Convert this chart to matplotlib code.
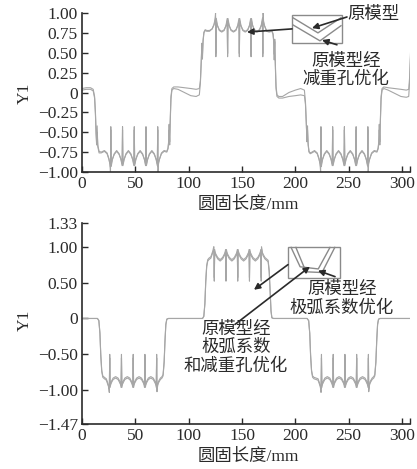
import matplotlib
matplotlib.use("Agg")
import matplotlib.pyplot as plt
from matplotlib.patches import Rectangle

plt.rcParams['font.family'] = ['Liberation Serif', 'Noto Sans CJK SC']
plt.rcParams['axes.unicode_minus'] = True

# ---- top chart: 原模型 vs 原模型经减重孔优化 ----
top_x = [0, 4, 8, 10.5, 11.8, 12.6, 13.2, 13.7, 14.2, 14.8, 16, 18,
         21, 23.5, 25.2, 26.2, 26.7, 27, 27.4, 28.4, 30.2, 32.5,
         34.8, 36.6, 37.6, 38, 38.4, 39.4, 41.2, 43.5,
         45.8, 47.6, 48.6, 49, 49.4, 50.4, 52.2, 54.5,
         56.8, 58.6, 59.6, 60, 60.4, 61.4, 63.2, 65.5,
         67.8, 69.6, 70.6, 71, 71.3, 71.7, 72.6, 74.5, 77,
         79.5, 80.6, 81.2, 81.7, 82.2, 82.7, 83.4, 84.3, 86,
         90, 96, 102, 107, 110,
         111, 111.8, 112.4, 112.9, 113.5, 114.3, 115.5, 117,
         119.5, 122, 123.8, 124.8, 125.2, 125.5, 125.9, 126.9, 128.7, 131,
         133.3, 135.1, 136.1, 136.5, 136.9, 137.9, 139.7, 142,
         144.3, 146.1, 147.1, 147.5, 147.9, 148.9, 150.7, 153,
         155.3, 157.1, 158.1, 158.5, 158.9, 159.9, 161.7, 164,
         166.3, 168.1, 169.1, 169.5, 169.8, 170.2, 171.1, 173, 175.5,
         178, 179.1, 179.7, 180.2, 180.7, 181.2, 181.9, 182.8, 184.5,
         188, 194, 200, 205, 208.5,
         209.5, 210.3, 210.9, 211.4, 212, 212.8, 214, 215.5,
         218, 220.5, 222.2, 223.2, 223.7, 224, 224.4, 225.4, 227.2, 229.5,
         231.8, 233.6, 234.6, 235, 235.4, 236.4, 238.2, 240.5,
         242.8, 244.6, 245.6, 246, 246.4, 247.4, 249.2, 251.5,
         253.8, 255.6, 256.6, 257, 257.4, 258.4, 260.2, 262.5,
         264.8, 266.6, 267.6, 268, 268.3, 268.7, 269.6, 271.5, 274,
         276.5, 277.6, 278.2, 278.7, 279.2, 279.7, 280.4, 281.3, 283,
         287, 293, 299, 304, 306.3, 307.2, 308, 309]

top_orig = [0.05, 0.06, 0.06, 0.04, -0.05, -0.25, -0.5, -0.63, -0.5, -0.66, -0.74, -0.75,
            -0.73, -0.76, -0.83, -0.9, -1.0, -0.43, -0.93, -0.85, -0.77, -0.73,
            -0.77, -0.85, -0.92, -0.43, -0.92, -0.85, -0.77, -0.73,
            -0.77, -0.85, -0.92, -0.43, -0.92, -0.85, -0.77, -0.73,
            -0.77, -0.85, -0.92, -0.43, -0.92, -0.85, -0.77, -0.73,
            -0.77, -0.85, -0.92, -0.43, -1.0, -0.9, -0.84, -0.76, -0.73,
            -0.74, -0.7, -0.62, -0.47, -0.62, -0.35, -0.05, 0.05, 0.07,
            0.07, 0.06, 0.05, 0.04, 0.05,
            0.15, 0.4, 0.6, 0.47, 0.64, 0.75, 0.78, 0.77,
            0.77, 0.8, 0.86, 0.93, 1.0, 0.45, 0.93, 0.85, 0.78, 0.76,
            0.78, 0.85, 0.93, 0.45, 0.93, 0.85, 0.78, 0.76,
            0.78, 0.85, 0.93, 0.45, 0.93, 0.85, 0.78, 0.76,
            0.78, 0.85, 0.93, 0.45, 0.93, 0.85, 0.78, 0.76,
            0.78, 0.85, 0.93, 0.45, 1.0, 0.9, 0.84, 0.77, 0.76,
            0.77, 0.73, 0.64, 0.48, 0.64, 0.36, 0.05, -0.05, -0.07,
            -0.07, -0.05, -0.04, -0.03, -0.04,
            -0.15, -0.4, -0.6, -0.47, -0.64, -0.74, -0.76, -0.75,
            -0.73, -0.76, -0.83, -0.9, -1.0, -0.43, -0.93, -0.85, -0.77, -0.73,
            -0.77, -0.85, -0.92, -0.43, -0.92, -0.85, -0.77, -0.73,
            -0.77, -0.85, -0.92, -0.43, -0.92, -0.85, -0.77, -0.73,
            -0.77, -0.85, -0.92, -0.43, -0.92, -0.85, -0.77, -0.73,
            -0.77, -0.85, -0.92, -0.43, -1.0, -0.9, -0.84, -0.76, -0.73,
            -0.74, -0.7, -0.62, -0.47, -0.62, -0.35, -0.05, 0.05, 0.07,
            0.06, 0.05, 0.04, 0.03, 0.04, 0.2, 0.5, 0.75]

top_opt = [0.03, 0.04, 0.04, 0.02, -0.07, -0.28, -0.52, -0.66, -0.42, -0.68, -0.76, -0.76,
           -0.74, -0.77, -0.84, -0.9, -0.94, -0.47, -0.9, -0.84, -0.78, -0.74,
           -0.78, -0.84, -0.9, -0.47, -0.9, -0.84, -0.78, -0.74,
           -0.78, -0.84, -0.9, -0.47, -0.9, -0.84, -0.78, -0.74,
           -0.78, -0.84, -0.9, -0.47, -0.9, -0.84, -0.78, -0.74,
           -0.78, -0.84, -0.9, -0.47, -0.94, -0.88, -0.84, -0.77, -0.74,
           -0.75, -0.71, -0.64, -0.4, -0.66, -0.38, -0.08, 0.03, 0.05,
           0.04, 0.0, -0.04, -0.05, -0.03,
           0.12, 0.38, 0.62, 0.42, 0.66, 0.76, 0.79, 0.78,
           0.78, 0.8, 0.85, 0.91, 0.95, 0.49, 0.9, 0.84, 0.79, 0.77,
           0.79, 0.84, 0.9, 0.49, 0.9, 0.84, 0.79, 0.77,
           0.79, 0.84, 0.9, 0.49, 0.9, 0.84, 0.79, 0.77,
           0.79, 0.84, 0.9, 0.49, 0.9, 0.84, 0.79, 0.77,
           0.79, 0.84, 0.9, 0.49, 0.95, 0.88, 0.84, 0.78, 0.77,
           0.78, 0.74, 0.66, 0.41, 0.67, 0.39, 0.08, -0.03, -0.05,
           -0.05, 0.0, 0.03, 0.05, 0.03,
           -0.12, -0.38, -0.62, -0.42, -0.66, -0.75, -0.77, -0.76,
           -0.74, -0.77, -0.84, -0.9, -0.94, -0.47, -0.9, -0.84, -0.78, -0.74,
           -0.78, -0.84, -0.9, -0.47, -0.9, -0.84, -0.78, -0.74,
           -0.78, -0.84, -0.9, -0.47, -0.9, -0.84, -0.78, -0.74,
           -0.78, -0.84, -0.9, -0.47, -0.9, -0.84, -0.78, -0.74,
           -0.78, -0.84, -0.9, -0.47, -0.94, -0.88, -0.84, -0.77, -0.74,
           -0.75, -0.71, -0.64, -0.4, -0.66, -0.38, -0.08, 0.03, 0.05,
           0.03, -0.01, -0.05, -0.06, -0.05, 0.15, 0.45, 0.72]

# ---- bottom chart: 极弧系数优化 vs 极弧系数和减重孔优化 ----
bot_x = [0, 10, 14.5, 15.8, 16.8, 17.6, 18.5, 19.5, 21,
         22.8, 24.2, 25.2, 25.6, 26, 26.4, 27.4, 29.2, 31.5,
         33.8, 35.6, 36.6, 37, 37.4, 38.4, 40.2, 42.5,
         44.8, 46.6, 47.6, 48, 48.4, 49.4, 51.2, 53.5,
         55.8, 57.6, 58.6, 59, 59.4, 60.4, 62.2, 64.5,
         66.8, 68.6, 69.6, 70, 70.3, 70.7, 71.6, 73.5, 75,
         76, 77, 77.8, 78.6, 79.5, 81,
         90, 100, 110, 113, 114.2, 115.2, 116, 116.9, 117.9, 119,
         120.8, 122.2, 123.2, 123.6, 124, 124.4, 125.4, 127.2, 129.5,
         131.8, 133.6, 134.6, 135, 135.4, 136.4, 138.2, 140.5,
         142.8, 144.6, 145.6, 146, 146.4, 147.4, 149.2, 151.5,
         153.8, 155.6, 156.6, 157, 157.4, 158.4, 160.2, 162.5,
         164.8, 166.6, 167.6, 168, 168.3, 168.7, 169.6, 171.5, 173,
         174.5, 175.5, 176.4, 177.2, 178, 179.5,
         190, 200, 211, 212.5, 213.5, 214.3, 215.2, 216.2, 217.5,
         221.3, 222.7, 223.7, 224.1, 224.5, 224.9, 225.9, 227.7, 230,
         232.3, 234.1, 235.1, 235.5, 235.9, 236.9, 238.7, 241,
         243.3, 245.1, 246.1, 246.5, 246.9, 247.9, 249.7, 252,
         254.3, 256.1, 257.1, 257.5, 257.9, 258.9, 260.7, 263,
         265.3, 267.1, 268.1, 268.5, 268.8, 269.2, 270.1, 272, 273.5,
         274.5, 275.5, 276.3, 277.1, 278, 279.5,
         290, 300, 307.5]

bot_arc = [0, 0, 0, -0.03, -0.2, -0.5, -0.72, -0.8, -0.82,
           -0.84, -0.9, -0.98, -1.03, -0.5, -0.96, -0.88, -0.83, -0.81,
           -0.83, -0.88, -0.96, -0.5, -0.96, -0.88, -0.83, -0.81,
           -0.83, -0.88, -0.96, -0.5, -0.96, -0.88, -0.83, -0.81,
           -0.83, -0.88, -0.96, -0.5, -0.96, -0.88, -0.83, -0.81,
           -0.83, -0.88, -0.96, -0.5, -1.02, -0.96, -0.88, -0.83, -0.81,
           -0.78, -0.6, -0.3, -0.08, -0.01, 0,
           0, 0, 0, 0, 0.03, 0.2, 0.5, 0.72, 0.8, 0.82,
           0.84, 0.9, 0.98, 1.0, 0.52, 0.96, 0.88, 0.83, 0.8,
           0.83, 0.88, 0.96, 0.52, 0.96, 0.88, 0.83, 0.8,
           0.83, 0.88, 0.96, 0.52, 0.96, 0.88, 0.83, 0.8,
           0.83, 0.88, 0.96, 0.52, 0.96, 0.88, 0.83, 0.8,
           0.83, 0.88, 0.96, 0.52, 1.0, 0.96, 0.88, 0.83, 0.81,
           0.79, 0.65, 0.35, 0.1, 0.01, 0,
           0, 0, 0, -0.03, -0.2, -0.5, -0.72, -0.8, -0.82,
           -0.84, -0.9, -0.98, -1.03, -0.5, -0.96, -0.88, -0.83, -0.81,
           -0.83, -0.88, -0.96, -0.5, -0.96, -0.88, -0.83, -0.81,
           -0.83, -0.88, -0.96, -0.5, -0.96, -0.88, -0.83, -0.81,
           -0.83, -0.88, -0.96, -0.5, -0.96, -0.88, -0.83, -0.81,
           -0.83, -0.88, -0.96, -0.5, -1.02, -0.96, -0.88, -0.83, -0.81,
           -0.78, -0.6, -0.3, -0.08, -0.01, 0,
           0, 0, 0]

bot_arc_hole = [0, 0, 0, -0.03, -0.21, -0.52, -0.74, -0.82, -0.84,
                -0.86, -0.92, -0.95, -0.98, -0.55, -0.93, -0.9, -0.85, -0.83,
                -0.85, -0.9, -0.93, -0.55, -0.93, -0.9, -0.85, -0.83,
                -0.85, -0.9, -0.93, -0.55, -0.93, -0.9, -0.85, -0.83,
                -0.85, -0.9, -0.93, -0.55, -0.93, -0.9, -0.85, -0.83,
                -0.85, -0.9, -0.93, -0.55, -0.98, -0.93, -0.9, -0.85, -0.83,
                -0.8, -0.62, -0.32, -0.09, -0.01, 0,
                0, 0, 0, 0, 0.03, 0.21, 0.52, 0.74, 0.82, 0.84,
                0.86, 0.92, 0.95, 0.97, 0.57, 0.93, 0.9, 0.85, 0.82,
                0.85, 0.9, 0.93, 0.57, 0.93, 0.9, 0.85, 0.82,
                0.85, 0.9, 0.93, 0.57, 0.93, 0.9, 0.85, 0.82,
                0.85, 0.9, 0.93, 0.57, 0.93, 0.9, 0.85, 0.82,
                0.85, 0.9, 0.93, 0.57, 0.97, 0.93, 0.9, 0.85, 0.83,
                0.81, 0.67, 0.37, 0.11, 0.01, 0,
                0, 0, 0, -0.03, -0.21, -0.52, -0.74, -0.82, -0.84,
                -0.86, -0.92, -0.95, -0.98, -0.55, -0.93, -0.9, -0.85, -0.83,
                -0.85, -0.9, -0.93, -0.55, -0.93, -0.9, -0.85, -0.83,
                -0.85, -0.9, -0.93, -0.55, -0.93, -0.9, -0.85, -0.83,
                -0.85, -0.9, -0.93, -0.55, -0.93, -0.9, -0.85, -0.83,
                -0.85, -0.9, -0.93, -0.55, -0.98, -0.93, -0.9, -0.85, -0.83,
                -0.8, -0.62, -0.32, -0.09, -0.01, 0,
                0, 0, 0]

x_ticks = [0, 50, 100, 150, 200, 250, 300]
top_yticks = [1.0, 0.75, 0.5, 0.25, 0, -0.25, -0.5, -0.75, -1.0]
top_ylabels = ['1.00', '0.75', '0.50', '0.25', '0', '\u22120.25', '\u22120.50', '\u22120.75', '\u22121.00']
bot_yticks = [1.33, 1.0, 0.5, 0, -0.5, -1.0, -1.47]
bot_ylabels = ['1.33', '1.00', '0.50', '0', '\u22120.50', '\u22121.00', '\u22121.47']

# zoomed-in sketches drawn inside the little boxes
top_inset_a = ([197.8, 221.2, 242.8], [0.94, 0.75, 0.94])
top_inset_b = ([197.8, 223.1, 242.8], [0.85, 0.65, 0.84])
bot_inset_a = ([196, 204.5, 221.5, 232.5], [0.99, 0.72, 0.69, 0.99])
bot_inset_b = ([200.5, 210, 225, 237], [0.99, 0.65, 0.64, 0.99])

curve_col = '#a6a6a6'
ink = '#2a2a2a'
fs = 12.5

fig = plt.figure(figsize=(4.17, 4.69), dpi=100)
ax1 = fig.add_axes([82/417, 1-172/469, 328/417, 159/469])
ax2 = fig.add_axes([82/417, 1-424/469, 328/417, 201/469])

ax1.plot(top_x, top_orig, color=curve_col, lw=0.8)
ax1.plot(top_x, top_opt, color=curve_col, lw=0.8)
ax2.plot(bot_x, bot_arc, color=curve_col, lw=0.8)
ax2.plot(bot_x, bot_arc_hole, color=curve_col, lw=0.8)

for ax, yt, yl, ylim in [(ax1, top_yticks, top_ylabels, (-1.0, 1.0)),
                         (ax2, bot_yticks, bot_ylabels, (-1.47, 1.33))]:
    ax.set_xlim(0, 307.5)
    ax.set_ylim(*ylim)
    ax.set_xticks(x_ticks)
    ax.set_xticks([307.2], minor=True)
    ax.set_xticklabels([str(v) for v in x_ticks])
    ax.set_yticks(yt)
    ax.set_yticklabels(yl)
    for s in ['top', 'right']:
        ax.spines[s].set_visible(False)
    for s in ['left', 'bottom']:
        ax.spines[s].set_color(ink)
        ax.spines[s].set_linewidth(1.2)
    ax.tick_params(which='both', direction='in', length=4, width=1.0,
                   colors=ink, labelsize=fs, pad=3)

fig.text(25/417, 1-93/469, 'Y1', rotation=90, ha='center', va='center', fontsize=fs, color=ink)
fig.text(25/417, 1-320/469, 'Y1', rotation=90, ha='center', va='center', fontsize=fs, color=ink)
fig.text(248/417, 1-205/469, '圆固长度/mm', ha='center', va='center', fontsize=fs, color=ink)
fig.text(248/417, 1-457/469, '圆固长度/mm', ha='center', va='center', fontsize=fs, color=ink)

arrow = dict(arrowstyle='-|>', color=ink, lw=1.2, mutation_scale=9, shrinkA=0, shrinkB=0)

# top annotations
ax1.add_patch(Rectangle((196.9, 0.623), 46.8, 0.352, facecolor='white',
                        edgecolor='#8a8a8a', lw=1.0, zorder=3))
ax1.plot(*top_inset_a, color='#8a8a8a', lw=1.0, zorder=4)
ax1.plot(*top_inset_b, color='#8a8a8a', lw=1.0, zorder=4)
ax1.text(272.8, 0.975, '原模型', ha='center', va='center', fontsize=fs, color=ink)
ax1.annotate('', xy=(215.6, 0.81), xytext=(248.4, 0.95), arrowprops=arrow, zorder=5)
ax1.annotate('', xy=(154.7, 0.76), xytext=(196.9, 0.80), arrowprops=arrow, zorder=5)
ax1.annotate('', xy=(225.0, 0.66), xytext=(239.0, 0.60), arrowprops=arrow, zorder=5)
ax1.text(247.5, 0.27, '原模型经\n减重孔优化', ha='center', va='center',
         fontsize=fs, color=ink, linespacing=1.15)

# bottom annotations
ax2.add_patch(Rectangle((193.1, 0.569), 48.8, 0.431, facecolor='white',
                        edgecolor='#8a8a8a', lw=1.0, zorder=3))
ax2.plot(*bot_inset_a, color='#8a8a8a', lw=1.0, zorder=4)
ax2.plot(*bot_inset_b, color='#8a8a8a', lw=1.0, zorder=4)
ax2.annotate('', xy=(221.2, 0.667), xytext=(237.2, 0.583), arrowprops=arrow, zorder=5)
ax2.annotate('', xy=(161.2, 0.40), xytext=(193.1, 0.75), arrowprops=arrow, zorder=5)
ax2.annotate('', xy=(213.7, 0.722), xytext=(143.4, -0.083), arrowprops=arrow, zorder=5)
ax2.text(243.7, 0.264, '原模型经\n极弧系数优化', ha='center', va='center',
         fontsize=fs, color=ink, linespacing=1.15)
ax2.text(144.4, -0.417, '原模型经\n极弧系数\n和减重孔优化', ha='center', va='center',
         fontsize=fs, color=ink, linespacing=1.15)

fig.savefig('out.png', dpi=100)
